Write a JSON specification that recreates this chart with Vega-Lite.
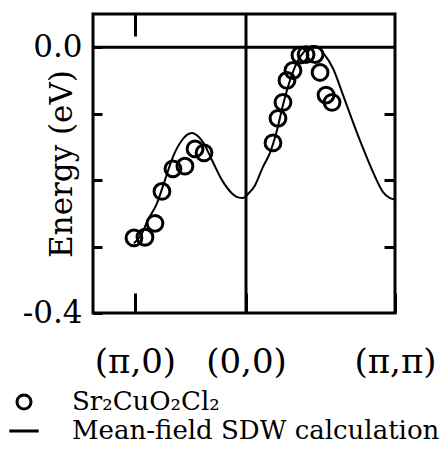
{
  "$schema": "https://vega.github.io/schema/vega-lite/v6.json",
  "autosize": {"type": "none"},
  "padding": {"left": 93, "top": 14, "right": 53, "bottom": 153},
  "width": 302,
  "height": 299,
  "background": "white",
  "config": {
    "view": {"stroke": "black", "strokeWidth": 3},
    "axis": {"domain": false, "grid": false, "tickColor": "black", "tickWidth": 3, "labelColor": "black", "labelFont": "DejaVu Serif", "titleFont": "DejaVu Serif", "titleColor": "black"}
  },
  "datasets": {
    "curve": [
      {"k": -1.009, "e": -0.295}, {"k": -0.946, "e": -0.283}, {"k": -0.883, "e": -0.260}, {"k": -0.802, "e": -0.235},
      {"k": -0.730, "e": -0.200}, {"k": -0.658, "e": -0.165}, {"k": -0.577, "e": -0.140}, {"k": -0.532, "e": -0.132},
      {"k": -0.486, "e": -0.129}, {"k": -0.432, "e": -0.134}, {"k": -0.387, "e": -0.143}, {"k": -0.306, "e": -0.170},
      {"k": -0.216, "e": -0.200}, {"k": -0.126, "e": -0.220}, {"k": -0.072, "e": -0.226}, {"k": -0.027, "e": -0.227},
      {"k": 0.018, "e": -0.221}, {"k": 0.081, "e": -0.208}, {"k": 0.153, "e": -0.180}, {"k": 0.216, "e": -0.159},
      {"k": 0.279, "e": -0.125}, {"k": 0.333, "e": -0.087}, {"k": 0.396, "e": -0.050}, {"k": 0.459, "e": -0.023},
      {"k": 0.532, "e": -0.005}, {"k": 0.595, "e": 0.002}, {"k": 0.649, "e": 0.000}, {"k": 0.694, "e": -0.008},
      {"k": 0.784, "e": -0.032}, {"k": 0.874, "e": -0.072}, {"k": 0.964, "e": -0.113}, {"k": 1.054, "e": -0.152},
      {"k": 1.144, "e": -0.188}, {"k": 1.234, "e": -0.218}, {"k": 1.297, "e": -0.227}, {"k": 1.342, "e": -0.229}
    ],
    "arpes": [
      {"k": -1.009, "e": -0.287, "series": "Sr₂CuO₂Cl₂"}, {"k": -0.910, "e": -0.286, "series": "Sr₂CuO₂Cl₂"},
      {"k": -0.820, "e": -0.265, "series": "Sr₂CuO₂Cl₂"}, {"k": -0.757, "e": -0.217, "series": "Sr₂CuO₂Cl₂"},
      {"k": -0.658, "e": -0.183, "series": "Sr₂CuO₂Cl₂"}, {"k": -0.550, "e": -0.179, "series": "Sr₂CuO₂Cl₂"},
      {"k": -0.459, "e": -0.153, "series": "Sr₂CuO₂Cl₂"}, {"k": -0.378, "e": -0.159, "series": "Sr₂CuO₂Cl₂"},
      {"k": 0.243, "e": -0.144, "series": "Sr₂CuO₂Cl₂"}, {"k": 0.288, "e": -0.107, "series": "Sr₂CuO₂Cl₂"},
      {"k": 0.333, "e": -0.083, "series": "Sr₂CuO₂Cl₂"}, {"k": 0.369, "e": -0.050, "series": "Sr₂CuO₂Cl₂"},
      {"k": 0.423, "e": -0.035, "series": "Sr₂CuO₂Cl₂"}, {"k": 0.486, "e": -0.012, "series": "Sr₂CuO₂Cl₂"},
      {"k": 0.541, "e": -0.011, "series": "Sr₂CuO₂Cl₂"}, {"k": 0.622, "e": -0.011, "series": "Sr₂CuO₂Cl₂"},
      {"k": 0.667, "e": -0.038, "series": "Sr₂CuO₂Cl₂"}, {"k": 0.721, "e": -0.072, "series": "Sr₂CuO₂Cl₂"},
      {"k": 0.775, "e": -0.083, "series": "Sr₂CuO₂Cl₂"}
    ],
    "hline": [{"e": 0}],
    "vline": [{"k": 0}]
  },
  "layer": [
    {
      "data": {"name": "hline"},
      "mark": {"type": "rule", "color": "black", "strokeWidth": 3},
      "encoding": {"y": {"field": "e", "type": "quantitative", "axis": null}}
    },
    {
      "data": {"name": "vline"},
      "mark": {"type": "rule", "color": "black", "strokeWidth": 3},
      "encoding": {"x": {"field": "k", "type": "quantitative", "axis": null}}
    },
    {
      "data": {"name": "curve"},
      "mark": {"type": "line", "color": "black", "strokeWidth": 2, "interpolate": "monotone"},
      "encoding": {
        "x": {
          "field": "k", "type": "quantitative",
          "scale": {"domain": [-1.378, 1.342], "nice": false, "zero": false},
          "axis": {"orient": "bottom", "values": [-1, 0, 1.342], "tickSize": -20, "labelFontSize": 34, "labelPadding": 52, "labelFlush": false, "labelOverlap": false, "labelExpr": "datum.value < -0.5 ? '(π,0)' : datum.value > 1 ? '(π,π)' : '(0,0)'", "title": null}
        },
        "y": {
          "field": "e", "type": "quantitative",
          "scale": {"domain": [-0.4, 0.05], "nice": false, "zero": false},
          "axis": {"orient": "left", "values": [-0.4, -0.3, -0.2, -0.1, 0], "tickSize": -9, "labelFontSize": 31, "labelPadding": 20, "labelExpr": "datum.value == 0 ? '0.0' : datum.value < -0.39 ? '-0.4' : ''", "title": "Energy (eV)", "titleFontSize": 31, "titleFontWeight": "normal", "titleX": -15}
        }
      }
    },
    {
      "data": {"name": "arpes"},
      "mark": {"type": "point", "filled": false, "color": "black", "strokeWidth": 3, "size": 250, "opacity": 1},
      "encoding": {
        "x": {"field": "k", "type": "quantitative", "axis": {"orient": "top", "values": [-1], "tickSize": -22, "labels": false, "title": null}},
        "y": {"field": "e", "type": "quantitative", "axis": {"orient": "right", "values": [-0.3, -0.2, -0.1], "tickSize": -11, "labels": false, "title": null}},
        "shape": {
          "field": "series", "type": "nominal",
          "scale": {"domain": ["Sr₂CuO₂Cl₂", "Mean-field SDW calculation"], "range": ["circle", "M-2.1,0H2.1"]},
          "legend": {"orient": "none", "legendX": -82, "legendY": 375, "title": null, "direction": "vertical", "padding": 0, "labelFont": "DejaVu Serif", "labelFontSize": 26, "labelColor": "black", "labelLimit": 500, "labelOffset": 35, "symbolSize": 196, "symbolStrokeWidth": 3, "symbolStrokeColor": "black", "symbolFillColor": "transparent", "rowPadding": 3}
        }
      }
    }
  ],
  "resolve": {"axis": {"x": "independent", "y": "independent"}}
}
